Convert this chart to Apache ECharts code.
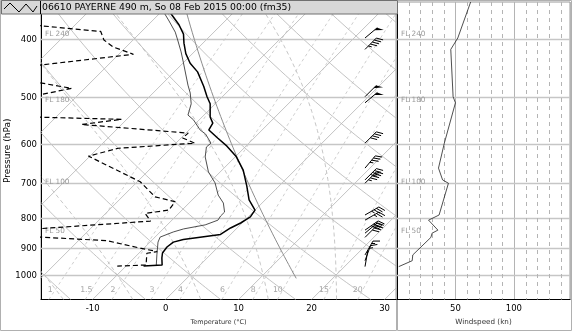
<!DOCTYPE html>
<html><head><meta charset="utf-8">
<script src="https://cdn.jsdelivr.net/npm/echarts@6/dist/echarts.min.js"></script>
<style>html,body{margin:0;padding:0;background:#fff}#c{width:573px;height:331px}</style>
</head><body><div id="c"></div>
<script>
// ---------------- data ----------------
const titleText = '06610 PAYERNE 490 m, So 08 Feb 2015 00:00 (fm35)';
const pressureLevels = [400, 500, 600, 700, 800, 900, 1000];
const tempTicks = [-10, 0, 10, 20, 30];
const windTicks = [50, 100];
const windMinorLines = [10, 20, 30, 40, 60, 70, 80, 90, 110, 120, 130, 140];
const flightLevels = [240, 180, 100, 50];
const mixingRatios = [1, 1.5, 2, 3, 4, 6, 8, 10, 15, 20];
const isotherms = [-70, -60, -50, -40, -30, -20, -10, 0, 10, 20, 30];
const dryAdiabats = [-30, -20, -10, 0, 10, 20, 30, 40, 50, 60, 70, 80, 90];
const moistAdiabats = [-20, -10, 0, 10, 20, 30];

// temperature profile (hPa, °C)
const tempP = [350, 364, 378, 392, 406, 423, 439, 454, 480, 500, 514, 541, 554, 569, 587, 606, 630, 665, 708, 747, 777, 798, 817, 833, 854, 871, 880, 897, 918, 936, 962, 966];
const tempT = [-40.4, -38.1, -35.8, -33.9, -32.6, -30.9, -29.0, -26.8, -24.0, -22.1, -20.7, -18.9, -17.7, -17.3, -15.0, -12.6, -10.0, -7.1, -4.4, -2.2, 0.0, 0.3, -0.2, -0.9, -1.4, -5.8, -6.8, -7.0, -6.8, -6.2, -5.2, -7.6];
// thin profile (wet bulb)
const wetP = [350, 371, 389, 401, 420, 437, 478, 493, 514, 537, 547, 569, 578, 599, 608, 632, 670, 699, 733, 756, 783, 795, 808, 823, 836, 846, 863, 880, 925, 962];
const wetT = [-41.2, -37.9, -35.3, -33.9, -31.8, -30.1, -26.3, -24.9, -23.3, -22.2, -20.8, -18.5, -17.2, -15.2, -15.3, -14.1, -11.6, -9.2, -7.1, -5.3, -3.9, -3.9, -3.7, -4.8, -7.2, -8.2, -9.3, -8.9, -7.3, -6.0];
// dew point (dashed)
const dewP = [371, 388, 401, 412, 424, 450, 461, 484, 512, 541, 546, 557, 576, 587, 599, 611, 630, 696, 738, 752, 777, 787, 811, 844, 856, 875, 901, 913, 919, 962, 966];
const dewT = [-63.7, -45.6, -44.0, -41.8, -38.0, -54.1, -53.3, -41.8, -49.6, -43.5, -30.7, -35.5, -19.7, -19.8, -17.4, -27.2, -30.2, -19.6, -15.5, -12.1, -11.8, -14.6, -12.8, -32.0, -31.5, -16.1, -10.5, -7.7, -8.9, -7.4, -11.2];
// wind
const windP = [346, 398, 416, 500, 512, 599, 660, 691, 700, 792, 808, 840, 850, 864, 925, 946, 968];
const windSpd = [63, 52, 46, 48, 50, 40.5, 35.5, 39, 44, 36, 27, 35, 30, 29, 13.5, 13, 1.5];
const windDir = [50, 50, 45, 45, 50, 45, 40, 45, 45, 60, 60, 55, 50, 45, 30, 20, 10];

// ---------------- diagram geometry ----------------
const P_TOP = 346, P_BOT = 1100;
const SKEW = 35.23;            // °C of shift per ln(p) unit (45° isotherms)
const FONT = 'DejaVu Sans';
const skew = (T, p) => T + SKEW * Math.log(P_BOT / p);

const curveP = [];
for (let p = P_BOT; p >= 320; p -= 10) curveP.push(p);

function dryLine(th) {
  return curveP.map(p => [skew((th + 273.15) * Math.pow(p / 1000, 0.2857) - 273.15, p), p]);
}
function mixLine(w) {
  return curveP.map(p => { const e = w * p / (622 + w); const l = Math.log(e / 6.112); return [skew(243.5 * l / (17.67 - l), p), p]; });
}
function moistLine(t0) {
  const f = (T, p) => {
    const Tc = T - 273.15;
    const es = 6.112 * Math.exp(17.67 * Tc / (Tc + 243.5));
    const rs = 0.622 * es / (p - es);
    return (287.04 * T + 2.501e6 * rs) / (1005.7 + 2.501e6 * 2.501e6 * rs * 0.622 / (287.04 * T * T)) / p;
  };
  const run = (dp, stop) => {
    const out = []; let T = t0 + 273.15, p = 1000, n = 0;
    while ((dp < 0 && p > stop) || (dp > 0 && p < stop)) {
      const k1 = f(T, p); const k2 = f(T + dp * k1, p + dp);
      T += dp * (k1 + k2) / 2; p += dp; n++;
      if (n % 5 === 0) out.push([skew(T - 273.15, p), p]);
    }
    return out;
  };
  const down = run(2, P_BOT).reverse();
  const up = run(-2, 320);
  return down.concat([[skew(t0, 1000), 1000]], up);
}
const stdAtm = curveP.filter(p => p <= 1013.25).map(p => [skew(288.15 * Math.pow(p / 1013.25, 0.190263) - 273.15, p), p]);
stdAtm.unshift([skew(15, 1013.25), 1013.25]);
const flPressure = fl => 1013.25 * Math.pow(1 - 0.0065 * fl * 30.48 / 288.15, 5.2559);

function bgLine(data, style, z) {
  return { type: 'line', xAxisIndex: 0, yAxisIndex: 0, data, showSymbol: false, symbol: 'none', silent: true, animation: false, z: z || 1, lineStyle: style, clip: true };
}

const series = [];
isotherms.forEach(T => series.push(bgLine([[skew(T, P_BOT), P_BOT], [skew(T, 320), 320]], { color: '#b4b4b4', width: 0.8 })));
dryAdiabats.forEach(th => series.push(bgLine(dryLine(th), { color: '#b4b4b4', width: 0.8 })));
moistAdiabats.forEach(t => series.push(bgLine(moistLine(t), { color: '#b8b8b8', width: 0.8, type: [4, 3] })));
mixingRatios.forEach(w => series.push(bgLine(mixLine(w), { color: '#c2c2c2', width: 0.8, type: [3, 3] })));

// pressure grid lines + labels
function pGrid(withLabels) {
  return function (params, api) {
    const cs = params.coordSys;
    const p = api.value(0);
    const y = Math.round(api.coord([0, p])[1]) + 0.5;
    const ch = [{ type: 'line', shape: { x1: cs.x, y1: y, x2: cs.x + cs.width, y2: y }, style: { stroke: '#c6c6c6', lineWidth: 1.3 } }];
    if (withLabels) ch.push({ type: 'text', x: cs.x - 4, y: y, style: { text: String(p), align: 'right', verticalAlign: 'middle', fill: '#000', font: '8.5px "' + FONT + '"' } });
    return { type: 'group', children: ch };
  };
}
series.push({ type: 'custom', xAxisIndex: 0, yAxisIndex: 0, data: pressureLevels.map(p => [p]), renderItem: pGrid(true), silent: true, z: 2 });
series.push({ type: 'custom', xAxisIndex: 1, yAxisIndex: 1, data: pressureLevels.map(p => [p]), renderItem: pGrid(false), silent: true, z: 2 });

// flight level labels
function flLabel(params, api) {
  const cs = params.coordSys;
  const y = api.coord([0, flPressure(api.value(0))])[1];
  return { type: 'text', x: cs.x + 4, y: y, style: { text: 'FL ' + api.value(0), align: 'left', verticalAlign: 'middle', fill: '#9a9a9a', font: '7.3px "' + FONT + '"' } };
}
series.push({ type: 'custom', xAxisIndex: 0, yAxisIndex: 0, data: flightLevels.map(f => [f]), renderItem: flLabel, silent: true, z: 3 });
series.push({ type: 'custom', xAxisIndex: 1, yAxisIndex: 1, data: flightLevels.map(f => [f]), renderItem: flLabel, silent: true, z: 3 });

// mixing ratio labels
series.push({
  type: 'custom', xAxisIndex: 0, yAxisIndex: 0, silent: true, z: 3,
  data: mixingRatios.map(w => [w]),
  renderItem: function (params, api) {
    const w = api.value(0), p = 1060;
    const e = w * p / (622 + w); const l = Math.log(e / 6.112);
    const pt = api.coord([skew(243.5 * l / (17.67 - l), p), p]);
    return { type: 'text', x: pt[0] - 5, y: pt[1], style: { text: String(w), align: 'center', verticalAlign: 'middle', fill: '#a6a6a6', font: '7.8px "' + FONT + '"' } };
  }
});

// wind minor lines (right panel)
series.push({
  type: 'custom', xAxisIndex: 1, yAxisIndex: 1, silent: true, z: 2,
  data: windMinorLines.map(v => [v]),
  renderItem: function (params, api) {
    const cs = params.coordSys;
    const x = Math.round(api.coord([api.value(0), 500])[0]) + 0.5;
    return { type: 'line', shape: { x1: x, y1: cs.y, x2: x, y2: cs.y + cs.height }, style: { stroke: '#b4b4b4', lineWidth: 1, lineDash: [4, 4] } };
  }
});

// standard atmosphere
series.push(bgLine(stdAtm, { color: '#8c8c8c', width: 1 }, 4));

// profiles
series.push(bgLine(dewP.map((p, i) => [skew(dewT[i], p), p]), { color: '#000', width: 1.2, type: [5, 3] }, 5));
series.push(bgLine(wetP.map((p, i) => [skew(wetT[i], p), p]), { color: '#3a3a3a', width: 0.9 }, 5));
series.push(bgLine(tempP.map((p, i) => [skew(tempT[i], p), p]), { color: '#000', width: 1.5 }, 6));

// wind barbs
series.push({
  type: 'custom', xAxisIndex: 0, yAxisIndex: 0, silent: true, z: 7,
  data: windP.map((p, i) => [p, windSpd[i], windDir[i]]).filter(d => d[0] > 360),
  renderItem: function (params, api) {
    const cs = params.coordSys;
    const p = api.value(0), spd = api.value(1), dir = api.value(2);
    const y0 = api.coord([0, p])[1];
    const x0 = cs.x + cs.width - 31;
    const a = dir * Math.PI / 180;
    const ux = Math.sin(a), uy = -Math.cos(a);
    const L = 16;
    const tip = [x0 + ux * L, y0 + uy * L];
    const fa = (dir + 60) * Math.PI / 180;
    const fx = Math.sin(fa), fy = -Math.cos(fa);
    const st = { stroke: '#000', lineWidth: 1 };
    const ch = [{ type: 'line', shape: { x1: x0, y1: y0, x2: tip[0], y2: tip[1] }, style: st }];
    let s = Math.round(spd / 5) * 5, pos = 0;
    const FLn = 7, step = 2.8;
    const at = d => [tip[0] - ux * d, tip[1] - uy * d];
    while (s >= 50) {
      const b1 = at(pos), b2 = at(pos + 4);
      ch.push({ type: 'polygon', shape: { points: [b1, [b1[0] + fx * FLn, b1[1] + fy * FLn], b2] }, style: { fill: '#000' } });
      pos += 5; s -= 50;
    }
    while (s >= 10) {
      const b = at(pos);
      ch.push({ type: 'line', shape: { x1: b[0], y1: b[1], x2: b[0] + fx * FLn, y2: b[1] + fy * FLn }, style: st });
      pos += step; s -= 10;
    }
    if (s >= 5) {
      if (pos === 0) pos = step;
      const b = at(pos);
      ch.push({ type: 'line', shape: { x1: b[0], y1: b[1], x2: b[0] + fx * FLn / 2, y2: b[1] + fy * FLn / 2 }, style: st });
    }
    return { type: 'group', children: ch };
  }
});

// wind speed profile
series.push({ type: 'line', xAxisIndex: 1, yAxisIndex: 1, data: windP.map((p, i) => [windSpd[i], p]), showSymbol: false, symbol: 'none', silent: true, lineStyle: { color: '#222', width: 0.8 }, z: 5, clip: true });

const option = {
  animation: false,
  grid: [
    { left: 41, top: 2, width: 355, height: 297.5, outerBoundsMode: 'none', containLabel: false, show: true, borderColor: '#9a9a9a', borderWidth: 1, backgroundColor: 'transparent' },
    { left: 397, top: 2, width: 173, height: 297.5, outerBoundsMode: 'none', containLabel: false, show: true, borderColor: '#9a9a9a', borderWidth: 1, backgroundColor: 'transparent' }
  ],
  xAxis: [
    {
      gridIndex: 0, type: 'value', min: -17.07, max: 31.56,
      axisLine: { show: true, onZero: false, lineStyle: { color: '#000', width: 1 } },
      axisTick: { show: false }, splitLine: { show: false },
      axisLabel: { customValues: tempTicks, fontSize: 8.5, fontFamily: FONT, color: '#000', margin: 5 },
      name: 'Temperature (°C)', nameLocation: 'middle', nameGap: 19,
      nameTextStyle: { fontSize: 6.5, fontFamily: FONT, color: '#333' }
    },
    {
      gridIndex: 1, type: 'value', min: 0, max: 148, interval: 50,
      axisLine: { show: true, onZero: false, lineStyle: { color: '#000', width: 1 } },
      axisTick: { show: false },
      splitLine: { show: true, lineStyle: { color: '#b4b4b4', width: 1 } },
      axisLabel: { customValues: windTicks, fontSize: 8.5, fontFamily: FONT, color: '#000', margin: 5 },
      name: 'Windspeed (kn)', nameLocation: 'middle', nameGap: 19,
      nameTextStyle: { fontSize: 7.2, fontFamily: FONT, color: '#333' }
    }
  ],
  yAxis: [
    {
      gridIndex: 0, type: 'log', logBase: 10, min: P_TOP, max: P_BOT, inverse: true,
      axisLine: { show: true, onZero: false, lineStyle: { color: '#000', width: 1 } },
      axisTick: { show: false }, axisLabel: { show: false }, splitLine: { show: false },
      name: 'Pressure (hPa)', nameLocation: 'middle', nameGap: 29, nameRotate: 90,
      nameTextStyle: { fontSize: 9, fontFamily: FONT, color: '#000' }
    },
    {
      gridIndex: 1, type: 'log', logBase: 10, min: P_TOP, max: P_BOT, inverse: true,
      axisLine: { show: true, onZero: false, lineStyle: { color: '#000', width: 1 } },
      axisTick: { show: false }, axisLabel: { show: false }, splitLine: { show: false }
    }
  ],
  series: series,
  graphic: [
    { type: 'rect', z: 0, shape: { x: 0.5, y: 0.5, width: 396, height: 330 }, style: { fill: 'none', stroke: '#b0b0b0', lineWidth: 1 } },
    { type: 'rect', z: 0, shape: { x: 397.5, y: 0.5, width: 174, height: 330 }, style: { fill: 'none', stroke: '#b0b0b0', lineWidth: 1 } },
    { type: 'rect', z: 100, shape: { x: 1.5, y: 0.5, width: 396, height: 13.5 }, style: { fill: '#d8d8d8', stroke: '#707070', lineWidth: 1 } },
    { type: 'line', z: 101, shape: { x1: 40.5, y1: 1, x2: 40.5, y2: 14 }, style: { stroke: '#000', lineWidth: 1 } },
    { type: 'polyline', z: 101, shape: { points: [[4, 9], [10, 3], [19, 12], [26, 4], [33, 12], [37, 6]] }, style: { stroke: '#000', lineWidth: 1, fill: 'none' } },
    { type: 'text', z: 101, x: 42, y: 7.5, style: { text: titleText, font: '9.3px "' + FONT + '"', fill: '#000', align: 'left', verticalAlign: 'middle' } }
  ]
};

const chart = echarts.init(document.getElementById('c'), null, { renderer: 'canvas' });
chart.setOption(option);
</script>
</body></html>
